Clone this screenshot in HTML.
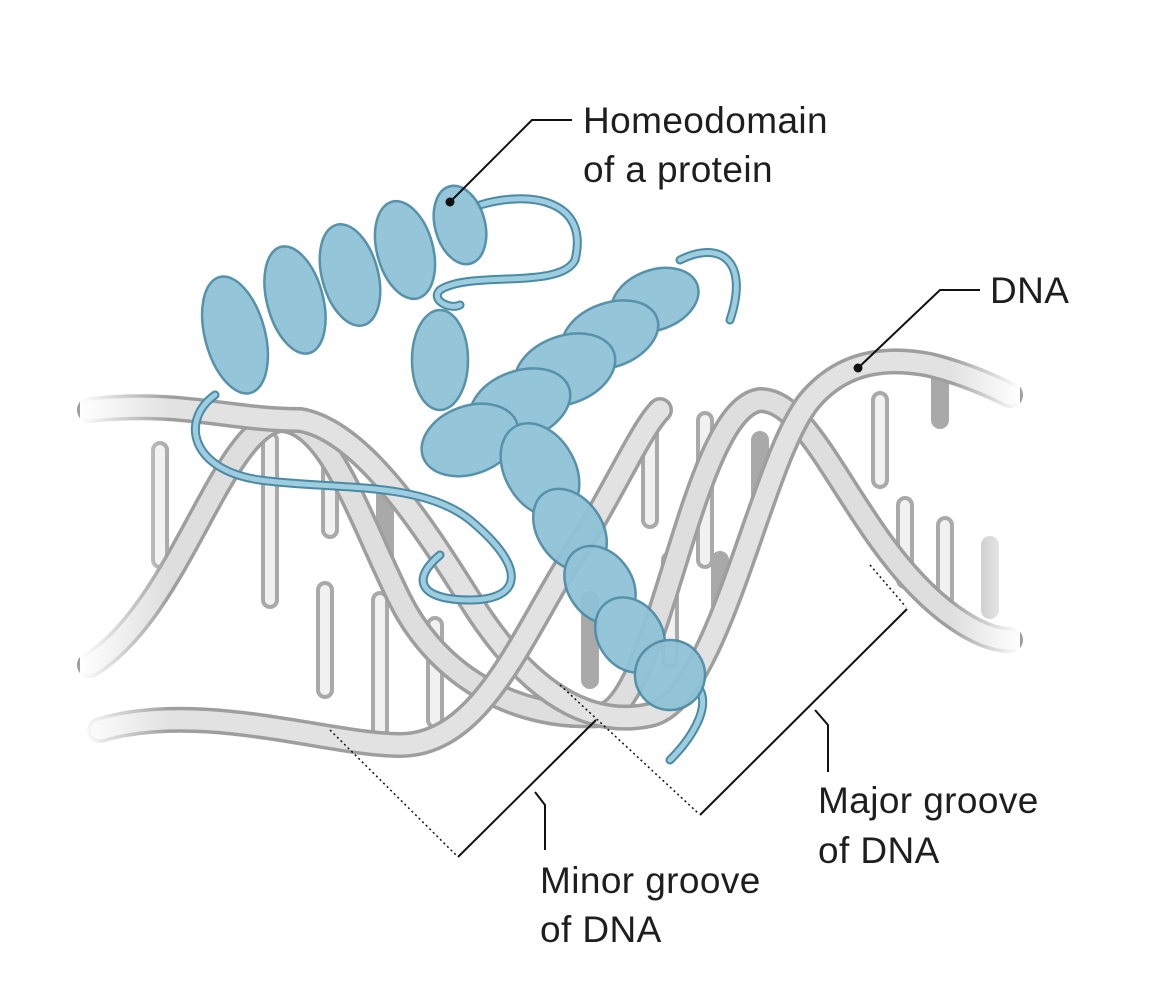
<!DOCTYPE html>
<html><head><meta charset="utf-8"><style>
html,body{margin:0;padding:0;background:#fff;}
svg{display:block}
text{font-family:"Liberation Sans",sans-serif;font-size:37px;fill:#1e1e1e;letter-spacing:0.4px;}
</style></head><body>
<svg width="1171" height="999" viewBox="0 0 1171 999" xmlns="http://www.w3.org/2000/svg">
<defs>
<linearGradient id="fadeL" x1="0" x2="1"><stop offset="0" stop-color="#fff" stop-opacity="1"/><stop offset="1" stop-color="#fff" stop-opacity="0"/></linearGradient>
<linearGradient id="fadeR" x1="1" x2="0"><stop offset="0" stop-color="#fff" stop-opacity="1"/><stop offset="1" stop-color="#fff" stop-opacity="0"/></linearGradient>
</defs>
<g stroke="#a9a9a9" stroke-width="18" stroke-linecap="round">
<line x1="160" y1="450" x2="160" y2="560"/><line x1="270" y1="440" x2="270" y2="600"/>
<line x1="330" y1="445" x2="330" y2="530"/><line x1="385" y1="480" x2="385" y2="560"/>
<line x1="325" y1="590" x2="325" y2="690"/><line x1="380" y1="600" x2="380" y2="730"/>
<line x1="435" y1="625" x2="435" y2="720"/><line x1="650" y1="425" x2="650" y2="520"/>
<line x1="705" y1="420" x2="705" y2="560"/><line x1="760" y1="440" x2="760" y2="520"/>
<line x1="720" y1="560" x2="720" y2="620"/><line x1="670" y1="560" x2="670" y2="660"/>
<line x1="590" y1="600" x2="590" y2="680"/><line x1="880" y1="400" x2="880" y2="480"/>
<line x1="905" y1="505" x2="905" y2="580"/><line x1="945" y1="525" x2="945" y2="600"/>
<line x1="990" y1="545" x2="990" y2="610"/><line x1="940" y1="380" x2="940" y2="420"/>
</g>
<g stroke="#f1f1f1" stroke-width="10" stroke-linecap="round">
<line x1="160" y1="450" x2="160" y2="560"/><line x1="270" y1="440" x2="270" y2="600"/>
<line x1="330" y1="445" x2="330" y2="530"/><line x1="325" y1="590" x2="325" y2="690"/>
<line x1="380" y1="600" x2="380" y2="730"/><line x1="435" y1="625" x2="435" y2="720"/>
<line x1="650" y1="425" x2="650" y2="520"/><line x1="705" y1="420" x2="705" y2="560"/>
<line x1="670" y1="560" x2="670" y2="660"/><line x1="880" y1="400" x2="880" y2="480"/>
<line x1="905" y1="505" x2="905" y2="580"/><line x1="945" y1="525" x2="945" y2="600"/>
</g>
<path d="M90,665 C180,610 220,430 280,420 C330,420 360,520 400,600 C440,680 520,720 600,715 C660,710 690,410 760,400 C800,400 830,470 880,540 C930,610 980,640 1010,640" fill="none" stroke="#9e9e9e" stroke-width="26" stroke-linecap="round"/>
<path d="M90,665 C180,610 220,430 280,420 C330,420 360,520 400,600 C440,680 520,720 600,715 C660,710 690,410 760,400 C800,400 830,470 880,540 C930,610 980,640 1010,640" fill="none" stroke="#dedede" stroke-width="19" stroke-linecap="round"/>
<path d="M90,410 C180,400 230,420 300,420 C360,430 420,520 470,600 C520,680 580,730 650,715 C720,700 760,460 810,400 C840,365 880,355 930,365 C970,375 1000,390 1010,395" fill="none" stroke="#9e9e9e" stroke-width="26" stroke-linecap="round"/>
<path d="M90,410 C180,400 230,420 300,420 C360,430 420,520 470,600 C520,680 580,730 650,715 C720,700 760,460 810,400 C840,365 880,355 930,365 C970,375 1000,390 1010,395" fill="none" stroke="#e2e2e2" stroke-width="19" stroke-linecap="round"/>
<path d="M100,730 C200,700 330,745 400,745 C480,745 520,640 570,560 C610,500 640,430 660,410" fill="none" stroke="#9e9e9e" stroke-width="26" stroke-linecap="round"/>
<path d="M100,730 C200,700 330,745 400,745 C480,745 520,640 570,560 C610,500 640,430 660,410" fill="none" stroke="#e2e2e2" stroke-width="19" stroke-linecap="round"/>
<rect x="80" y="340" width="90" height="420" fill="url(#fadeL)"/>
<rect x="950" y="340" width="70" height="320" fill="url(#fadeR)"/>
<g fill="none" stroke-linecap="round">
<path d="M215,395 C180,420 190,470 260,480 C330,490 420,480 470,520 C530,570 520,600 470,600 C420,600 410,580 440,555" stroke="#4a8aa5" stroke-width="9"/>
<path d="M215,395 C180,420 190,470 260,480 C330,490 420,480 470,520 C530,570 520,600 470,600 C420,600 410,580 440,555" stroke="#9fcde0" stroke-width="5"/>
<path d="M480,205 C530,190 590,200 575,260 C560,290 470,270 440,290 C430,300 450,310 460,305" stroke="#4a8aa5" stroke-width="9"/>
<path d="M480,205 C530,190 590,200 575,260 C560,290 470,270 440,290 C430,300 450,310 460,305" stroke="#9fcde0" stroke-width="5"/>
<path d="M680,260 C720,240 750,260 730,320" stroke="#4a8aa5" stroke-width="9"/>
<path d="M680,260 C720,240 750,260 730,320" stroke="#9fcde0" stroke-width="5"/>
<path d="M700,690 C710,710 690,740 670,760" stroke="#4a8aa5" stroke-width="9"/>
<path d="M700,690 C710,710 690,740 670,760" stroke="#9fcde0" stroke-width="5"/>
</g>
<g fill="#8fc2d7" stroke="#4f8ca6" stroke-width="2.5" opacity="0.95">
<ellipse cx="235" cy="335" rx="30" ry="60" transform="rotate(-15 235 335)"/>
<ellipse cx="295" cy="300" rx="28" ry="55" transform="rotate(-15 295 300)"/>
<ellipse cx="350" cy="275" rx="28" ry="52" transform="rotate(-15 350 275)"/>
<ellipse cx="405" cy="250" rx="28" ry="50" transform="rotate(-15 405 250)"/>
<ellipse cx="460" cy="225" rx="25" ry="40" transform="rotate(-15 460 225)"/>
<ellipse cx="440" cy="360" rx="28" ry="50"/>
<ellipse cx="655" cy="300" rx="45" ry="30" transform="rotate(-20 655 300)"/>
<ellipse cx="610" cy="335" rx="50" ry="32" transform="rotate(-20 610 335)"/>
<ellipse cx="565" cy="370" rx="52" ry="34" transform="rotate(-20 565 370)"/>
<ellipse cx="520" cy="405" rx="52" ry="34" transform="rotate(-20 520 405)"/>
<ellipse cx="470" cy="440" rx="50" ry="34" transform="rotate(-20 470 440)"/>
<ellipse cx="540" cy="470" rx="35" ry="50" transform="rotate(-30 540 470)"/>
<ellipse cx="570" cy="530" rx="32" ry="45" transform="rotate(-35 570 530)"/>
<ellipse cx="600" cy="585" rx="32" ry="42" transform="rotate(-35 600 585)"/>
<ellipse cx="630" cy="635" rx="32" ry="40" transform="rotate(-35 630 635)"/>
<ellipse cx="670" cy="675" rx="35" ry="35" transform="rotate(-35 670 675)"/>
</g>
<g stroke="#111" stroke-width="2" fill="none">
<polyline points="450,202 532,120 572,120"/>
<polyline points="858,368 940,290 980,290"/>
<polyline points="907,609 700,815"/><polyline points="815,710 828,725 828,772"/>
<polyline points="596,720 458,857"/><polyline points="535,792 545,805 545,850"/>
</g>
<g stroke="#111" stroke-width="1.5" stroke-dasharray="2,3" fill="none">
<line x1="330" y1="730" x2="456" y2="855"/><line x1="560" y1="685" x2="698" y2="813"/><line x1="870" y1="565" x2="906" y2="607"/>
</g>
<circle cx="450" cy="202" r="4.5" fill="#111"/><circle cx="858" cy="368" r="4.5" fill="#111"/>
<text x="583" y="133">Homeodomain</text><text x="583" y="182">of a protein</text>
<text x="990" y="303">DNA</text>
<text x="818" y="813">Major groove</text><text x="818" y="863">of DNA</text>
<text x="540" y="893">Minor groove</text><text x="540" y="942">of DNA</text>
</svg>
</body></html>
